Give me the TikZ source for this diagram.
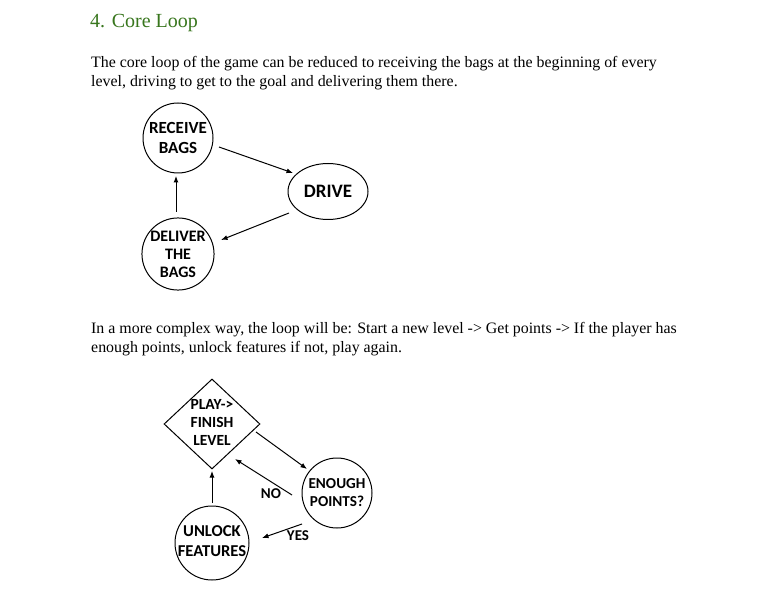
\documentclass[tikz,border=0pt]{standalone}
\usepackage{fontspec}
\setmainfont{Liberation Serif}
\newfontfamily\diagfont{Carlito}[BoldFont={Carlito Bold}]
\usetikzlibrary{arrows.meta,shapes.geometric}
\definecolor{titlegreen}{HTML}{38761D}
\begin{document}
\begin{tikzpicture}[x=1pt,y=-1pt,
  bubble/.style={draw,circle,line width=1pt,minimum size=#1,inner sep=0pt,align=center},
  oval/.style={draw,ellipse,line width=1pt,minimum width=80pt,minimum height=56pt,inner sep=0pt,font=\diagfont\bfseries\fontsize{19}{22}\selectfont},
  decide/.style={draw,diamond,line width=1pt,minimum width=96pt,minimum height=90pt,inner sep=0pt,align=center,font=\diagfont\bfseries\fontsize{15.5}{18}\selectfont},
  flow/.style={line width=1pt,-{Latex[length=6.5pt,width=5pt]}},
  para/.style={anchor=north west,align=left,inner sep=0pt,font=\fontsize{15.9}{19.2}\selectfont},
  lab/.style={font=\diagfont\bfseries\fontsize{15}{16}\selectfont,inner sep=0pt}]
\useasboundingbox[fill=white] (0,0) rectangle (784,593);
\node[anchor=base west,inner sep=0pt,text=titlegreen,font=\fontsize{20}{24}\selectfont] (title) at (90,28) {4. Core Loop};
\node[para] (p1) at (91,56) {The core loop of the game can be reduced to receiving the bags at the beginning of every\\level, driving to get to the goal and delivering them there.};
\node[para] (p2) at (91,322) {In a more complex way, the loop will be: Start a new level -> Get points -> If the player has\\enough points, unlock features if not, play again.};
% first diagram
\node[bubble=70pt,font=\diagfont\bfseries\fontsize{17}{20}\selectfont] (recv) at (178,138) {RECEIVE\\BAGS};
\node[oval] (drive) at (328,191.5) {DRIVE};
\node[bubble=72pt,font=\diagfont\bfseries\fontsize{16}{18}\selectfont] (deliv) at (178,254) {DELIVER\\THE\\BAGS};
\coordinate (a1s) at (219,147); \coordinate (a1e) at (293,173);
\coordinate (a2s) at (289,213); \coordinate (a2e) at (221,240);
\coordinate (a3s) at (176,212); \coordinate (a3e) at (176,176);
\draw[flow] (a1s) -- (a1e);
\draw[flow] (a2s) -- (a2e);
\draw[flow] (a3s) -- (a3e);
% second diagram
\node[decide] (play) at (212,424) {};
\node[align=center,inner sep=0pt,font=\diagfont\bfseries\fontsize{15.5}{18}\selectfont] (playtxt) at (212,422) {PLAY->\\FINISH\\LEVEL};
\node[bubble=70pt,font=\diagfont\bfseries\fontsize{15.2}{18}\selectfont] (enough) at (337,493) {ENOUGH\\POINTS?};
\node[bubble=74pt] (unlock) at (212,543) {};
\node[align=center,inner sep=0pt,font=\diagfont\bfseries\fontsize{16.6}{20}\selectfont] (unlocktxt) at (212,541) {UNLOCK\\FEATURES};
\coordinate (b1s) at (256,432); \coordinate (b1e) at (307,469);
\coordinate (b2s) at (292,495); \coordinate (b2e) at (235,459);
\coordinate (b3s) at (212,503); \coordinate (b3e) at (212,471);
\coordinate (b4s) at (302,524); \coordinate (b4e) at (262,538);
\draw[flow] (b1s) -- (b1e);
\draw[flow] (b2s) -- (b2e);
\draw[flow] (b3s) -- (b3e);
\draw[flow] (b4s) -- (b4e);
\node[lab] (no) at (271,494) {NO};
\node[lab] (yes) at (298,536) {YES};
\end{tikzpicture}
\end{document}
